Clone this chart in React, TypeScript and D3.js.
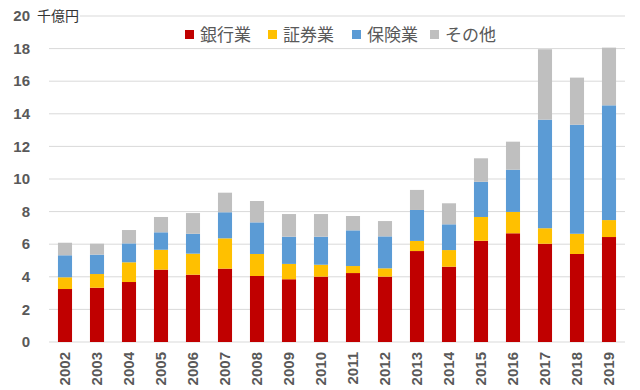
import * as d3 from 'd3';

const years = ['2002','2003','2004','2005','2006','2007','2008','2009','2010','2011','2012','2013','2014','2015','2016','2017','2018','2019'];
const seriesNames = ['銀行業', '証券業', '保険業', 'その他'];
const banking = [3.25, 3.33, 3.68, 4.44, 4.13, 4.5, 4.05, 3.85, 4.01, 4.23, 4.01, 5.58, 4.62, 6.21, 6.67, 6.03, 5.4, 6.44];
const securities = [0.72, 0.84, 1.21, 1.22, 1.29, 1.86, 1.35, 0.94, 0.73, 0.43, 0.51, 0.62, 1.02, 1.46, 1.31, 0.95, 1.24, 1.04];
const insurance = [1.35, 1.19, 1.16, 1.07, 1.22, 1.6, 1.94, 1.67, 1.72, 2.19, 1.96, 1.9, 1.58, 2.16, 2.59, 6.66, 6.69, 7.04];
const other = [0.77, 0.67, 0.82, 0.94, 1.27, 1.2, 1.31, 1.39, 1.39, 0.88, 0.94, 1.23, 1.29, 1.44, 1.72, 4.32, 2.89, 3.54];
const yTicks = [0, 2, 4, 6, 8, 10, 12, 14, 16, 18, 20];
const colors = ['#C00000', '#FFC000', '#5B9BD5', '#BFBFBF'];

const W = 640, H = 390;
const jp = '"Noto Sans CJK JP", sans-serif';
const num = '"Liberation Sans", Arial, sans-serif';

export default function App() {
  const rows = years.map((y, i) => ({
    year: y,
    [seriesNames[0]]: banking[i],
    [seriesNames[1]]: securities[i],
    [seriesNames[2]]: insurance[i],
    [seriesNames[3]]: other[i],
  }));
  const stacked = d3.stack<any>().keys(seriesNames)(rows);

  const x = d3.scaleBand().domain(years).range([49, 625]).paddingInner(0.56).paddingOuter(0.28);
  const y = d3.scaleLinear().domain([0, 20]).range([342, 16]);

  const legendX = [185, 268, 352, 430];

  return (
    <svg width={W} height={H} style={{ position: 'absolute', left: 0, top: 0, background: '#fff' }}>
      {yTicks.map(t => (
        <g key={t}>
          <line x1={49} x2={625} y1={y(t)} y2={y(t)} stroke="#D9D9D9" strokeWidth={1} />
          <text x={30} y={y(t)} dy="0.35em" textAnchor="end" fontFamily={num} fontWeight="bold" fontSize={15} fill="#595959">{t}</text>
        </g>
      ))}
      {/* unit label sits on a white patch over the top gridline */}
      <rect x={34} y={y(20) - 9} width={46} height={18} fill="#fff" />
      <text x={37} y={y(20)} dy="0.35em" fontFamily={jp} fontSize={14} fill="#333">千億円</text>
      {stacked.map((s, si) => (
        <g key={s.key} fill={colors[si]}>
          {s.map((d, i) => (
            <rect key={i} x={x(years[i])} width={x.bandwidth()} y={y(d[1])} height={y(d[0]) - y(d[1])} />
          ))}
        </g>
      ))}
      {years.map(yr => (
        <text key={yr} transform={`translate(${(x(yr) as number) + x.bandwidth() / 2},352) rotate(-90)`} dy="0.35em" textAnchor="end" fontFamily={num} fontWeight="bold" fontSize={15} fill="#595959">{yr}</text>
      ))}
      {seriesNames.map((n, i) => (
        <g key={n}>
          <rect x={legendX[i]} y={30} width={9} height={9} fill={colors[i]} />
          <text x={legendX[i] + 15} y={35} dy="0.35em" fontFamily={jp} fontSize={17} fill="#595959">{n}</text>
        </g>
      ))}
    </svg>
  );
}
